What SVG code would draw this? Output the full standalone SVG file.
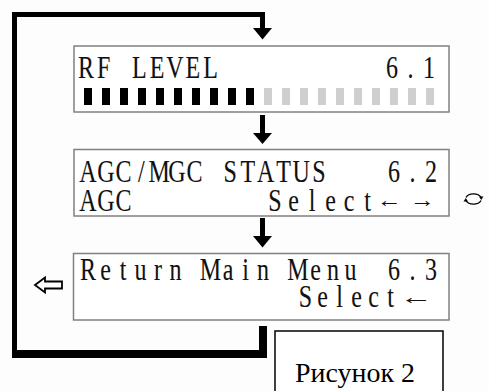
<svg xmlns="http://www.w3.org/2000/svg" width="489" height="391" viewBox="0 0 489 391">
<style>
.lcd{fill:#fff;stroke:#808080;stroke-width:1.5}
.t{font-family:"Liberation Serif","DejaVu Serif",serif;font-size:32px;fill:#111;stroke:#111;stroke-width:0.12;text-anchor:middle}
.ar{font-family:"Liberation Sans","DejaVu Sans",sans-serif;font-size:22px;fill:#111}
.loop{fill:#000}
.on{fill:#000}
.off{fill:#cfcfcf}
</style>
<rect width="489" height="391" fill="#fdfdfd"/>
<g id="connectors">
  <rect class="loop" x="12" y="12" width="5" height="346"/>
  <rect class="loop" x="12" y="12" width="253" height="5"/>
  <rect class="loop" x="260" y="12" width="5" height="17"/>
  <polygon class="loop" points="253,28 272,28 262.5,39.5"/>
  <rect class="loop" x="260" y="115" width="5" height="20"/>
  <polygon class="loop" points="253,133 272,133 262.5,144"/>
  <rect class="loop" x="260" y="218" width="5" height="20"/>
  <polygon class="loop" points="253,236 272,236 262.5,247.5"/>
  <rect class="loop" x="259" y="326" width="8" height="32"/>
  <rect class="loop" x="12" y="350" width="255" height="8"/>
  <polygon points="35,285 45,277.5 45,281.5 62,281.5 62,288.5 45,288.5 45,292.5" fill="#fff" stroke="#000" stroke-width="1.8" stroke-linejoin="miter"/>
  <g fill="none" stroke="#000" stroke-width="1.4">
    <path d="M466,197.5 A8,5.5 0 0 1 481,197.5"/>
    <path d="M481,200.5 A8,5.5 0 0 1 466,200.5"/>
  </g>
  <polygon points="479,196.5 483.5,196.5 481.2,200" fill="#000"/>
  <polygon points="463.5,201.5 468,201.5 465.8,198" fill="#000"/>
</g>
<g id="node-rf-level">
  <rect class="lcd" x="74" y="46" width="375" height="66"/>
  <g transform="scale(0.75 1)">
    <text class="t" y="78" x="114.67 138.4 162.13 185.87 209.6 233.33 257.07 280.8">RF LEVEL</text>
    <text class="t" y="78" x="522.67 547.33 572">6.1</text>
  </g>
  <g>
    <rect class="on" x="84" y="88" width="8" height="17"/>
    <rect class="on" x="102" y="88" width="8" height="17"/>
    <rect class="on" x="120" y="88" width="8" height="17"/>
    <rect class="on" x="138" y="88" width="8" height="17"/>
    <rect class="on" x="156" y="88" width="8" height="17"/>
    <rect class="on" x="174" y="88" width="8" height="17"/>
    <rect class="on" x="192" y="88" width="8" height="17"/>
    <rect class="on" x="210" y="88" width="8" height="17"/>
    <rect class="on" x="228" y="88" width="8" height="17"/>
    <rect class="on" x="246" y="88" width="8" height="17"/>
    <rect class="off" x="264" y="88" width="8" height="17"/>
    <rect class="off" x="282" y="88" width="8" height="17"/>
    <rect class="off" x="300" y="88" width="8" height="17"/>
    <rect class="off" x="318" y="88" width="8" height="17"/>
    <rect class="off" x="336" y="88" width="8" height="17"/>
    <rect class="off" x="354" y="88" width="8" height="17"/>
    <rect class="off" x="372" y="88" width="8" height="17"/>
    <rect class="off" x="390" y="88" width="8" height="17"/>
    <rect class="off" x="408" y="88" width="8" height="17"/>
    <rect class="off" x="426" y="88" width="8" height="17"/>
  </g>
</g>
<g id="node-agc-mgc">
  <rect class="lcd" x="74" y="149.5" width="375" height="66.5"/>
  <g transform="scale(0.75 1)">
    <text class="t" y="182" x="117.33 141.07 164.67 188.4 212.13 235.87 259.47 283.2 306.93 330.53 354.27 378 401.6 425.33">AGC/MGC STATUS</text>
    <text class="t" y="182" x="525.33 550 574.67">6.2</text>
    <text class="t" y="211" x="117.33 141.07 164.67">AGC</text>
    <text class="t" y="211" x="366.67 391.33 416 440.67 465.33 490">Select</text>
  </g>
  <text class="ar" x="377" y="207" textLength="25" lengthAdjust="spacingAndGlyphs">←</text>
  <text class="ar" x="410" y="207" textLength="25" lengthAdjust="spacingAndGlyphs">→</text>
</g>
<g id="node-return">
  <rect class="lcd" x="73.5" y="253.5" width="375.5" height="66.5"/>
  <g transform="scale(0.75 1)">
    <text class="t" y="280.5" x="117.33 140.67 164 187.33 210.67 234 257.33 280.67 304 327.33 350.67 374 397.33 420.67 444 467.33">Return Main Menu</text>
    <text class="t" y="280.5" x="525.33 550 574.67">6.3</text>
    <text class="t" y="307.5" x="407.33 430 452.67 475.33 498 520.67">Select</text>
  </g>
  <text class="ar" x="400" y="304" textLength="33" lengthAdjust="spacingAndGlyphs">←</text>
</g>
<g id="node-caption">
  <rect x="275" y="331" width="168" height="80" fill="#fff" stroke="#000" stroke-width="1.5"/>
  <text x="295" y="382" font-family="Liberation Serif, serif" font-size="28" fill="#000" textLength="120" lengthAdjust="spacingAndGlyphs">Рисунок 2</text>
</g>
</svg>
